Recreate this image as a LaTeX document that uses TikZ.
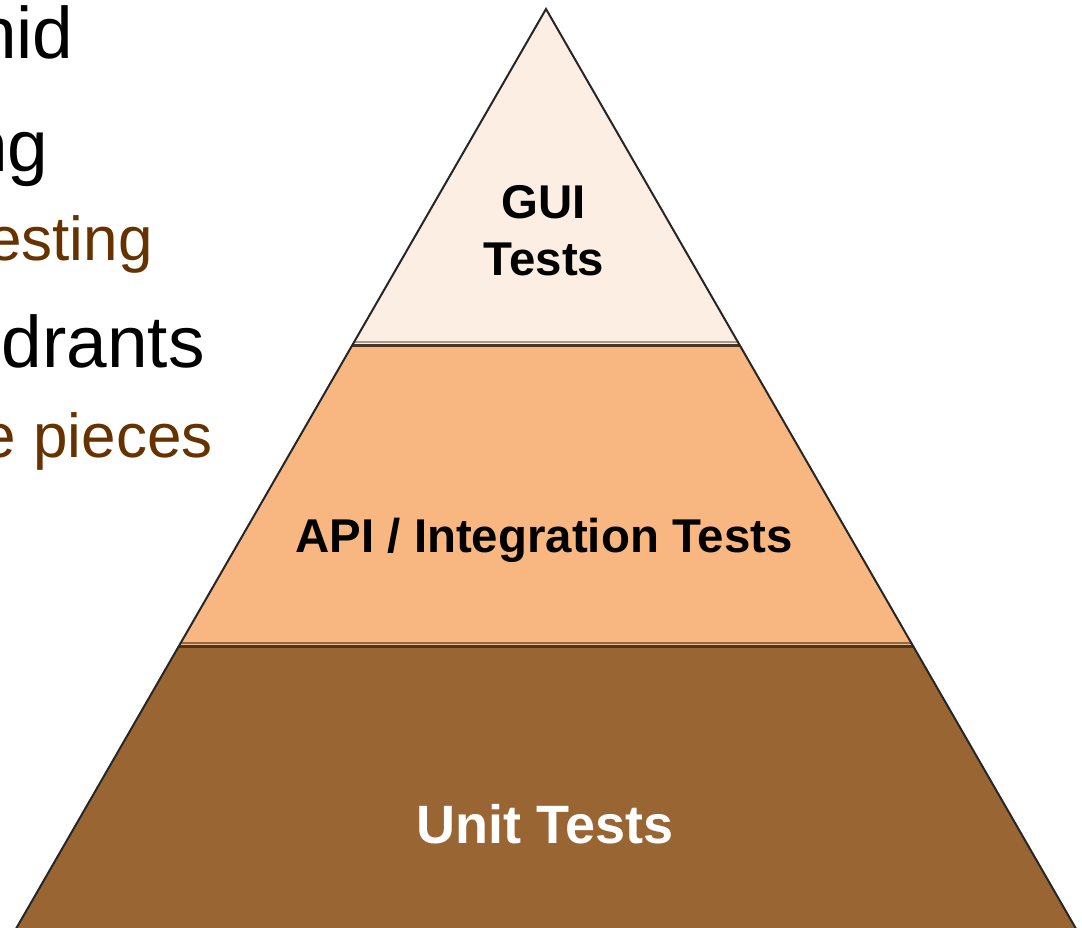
\documentclass[tikz,border=0pt]{standalone}
\usepackage{fontspec}
\setmainfont{Liberation Sans}
\definecolor{guifill}{HTML}{FCEEE3}
\definecolor{apifill}{HTML}{F8B781}
\definecolor{unitfill}{HTML}{996633}
\definecolor{subbrown}{HTML}{663300}
\definecolor{divline}{HTML}{4A3520}
\begin{document}
\begin{tikzpicture}[x=0.5pt,y=-0.5pt,
  outline/.style={draw=black!85, line width=1pt, line join=miter},
  divider/.style={draw=divline, line width=1.1pt},
  lefttext/.style={anchor=base east, inner sep=0pt, font=\fontsize{36.5}{40}\selectfont},
  subtext/.style={anchor=base east, inner sep=0pt, text=subbrown, font=\fontsize{31}{34}\selectfont},
  layerlabel/.style={anchor=base, inner sep=0pt, font=\bfseries\fontsize{23.7}{26}\selectfont}]
\useasboundingbox (0,0) rectangle (1082,927);
\clip (0,0) rectangle (1082,927);
\fill[white] (0,0) rectangle (1082,927);
% bands
\fill[guifill] (546,9) -- (352.4,345) -- (739.6,345) -- cycle;
\fill[apifill] (352.4,345) -- (178.9,646) -- (913.1,646) -- (739.6,345) -- cycle;
\fill[unitfill] (178.9,646) -- (12.4,935) -- (1079.6,935) -- (913.1,646) -- cycle;
% dividers
\draw[draw=black!35!guifill, line width=0.8pt] (354.1,342) -- (737.9,342);
\draw[divider] (352.4,345.5) -- (739.6,345.5);
\draw[draw=divline!60!apifill, line width=0.8pt] (180.6,643) -- (911.4,643);
\draw[divider] (178.9,646.5) -- (913.1,646.5);
% outline
\draw[outline] (12.4,935) -- (546,9) -- (1079.6,935);
% layer labels
\node[layerlabel] (guiA) at (544,218) {GUI};
\node[layerlabel] (guiB) at (544,275) {Tests};
\node[layerlabel] (api) at (544,552) {API / Integration Tests};
\node[layerlabel, text=white, font=\bfseries\fontsize{27}{30}\selectfont] (unit) at (545,843) {Unit Tests};
% cropped slide text
\node[lefttext] (l1) at (74,58) {nid};
\node[lefttext] (l2) at (49,171) {ng};
\node[subtext] (l3) at (153,260) {esting};
\node[lefttext] (l4) at (205,367) {drants};
\node[subtext] (l5) at (213,457) {e pieces};
\end{tikzpicture}
\end{document}
